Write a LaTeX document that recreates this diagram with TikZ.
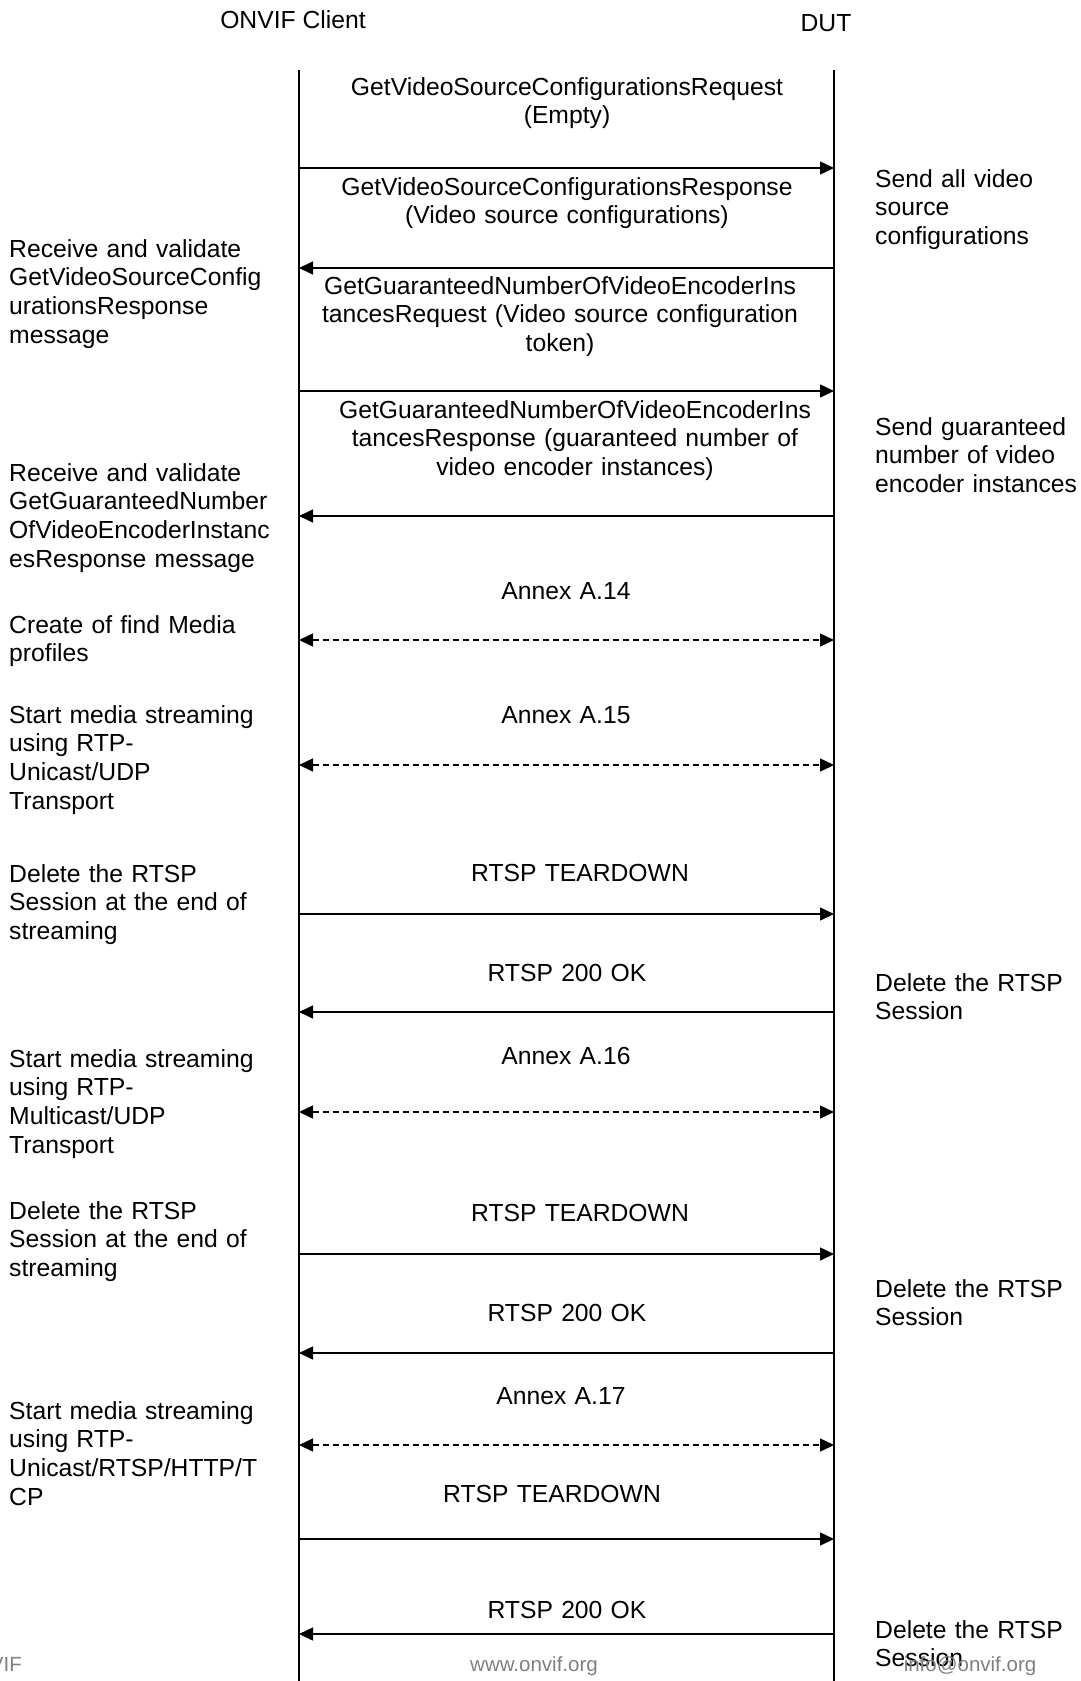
\documentclass[tikz,border=0pt]{standalone}
\usepackage{fontspec}
\setmainfont{Liberation Sans}
\usetikzlibrary{arrows.meta}
\begin{document}
\begin{tikzpicture}[x=1pt,y=-1pt,
  every node/.style={inner sep=0pt, font=\fontsize{24.7}{28.7}\selectfont},
  lifeline/.style={line width=1.8pt},
  msg/.style={line width=1.5pt, -{Triangle[length=14pt,width=13pt]}},
  dmsg/.style={line width=1.5pt, dash pattern=on 6pt off 4pt, {Triangle[length=14pt,width=13pt]}-{Triangle[length=14pt,width=13pt]}},
  lbl/.style={anchor=base, text width=560pt, align=center},
  lnote/.style={anchor=base west, text width=270pt, align=left},
  rnote/.style={anchor=base west, text width=205pt, align=left},
  foot/.style={anchor=base, text=black!50, font=\fontsize{20.5}{24}\selectfont}]
\useasboundingbox (0,0) rectangle (1081,1681);
\fill[white] (0,0) rectangle (1081,1681);

% headers
\node (hc) [anchor=base] at (293,28) {ONVIF Client};
\node (hd) [anchor=base] at (826,31) {DUT};

% lifelines
\coordinate (ct) at (299,70);
\coordinate (cb) at (299,1681);
\coordinate (dt) at (834,70);
\coordinate (db) at (834,1681);
\draw[lifeline] (ct) -- (cb);
\draw[lifeline] (dt) -- (db);

% arrow end points
\foreach \i/\y in {1/168,2/268,3/391,4/516,5/640,6/765,7/914,8/1012,9/1112,10/1254,11/1353,12/1445,13/1539,14/1634}{
  \coordinate (c\i) at (299,\y);
  \coordinate (d\i) at (834,\y);
}

% messages
\draw[msg] (c1) -- (d1);
\draw[msg] (d2) -- (c2);
\draw[msg] (c3) -- (d3);
\draw[msg] (d4) -- (c4);
\draw[dmsg] (c5) -- (d5);
\draw[dmsg] (c6) -- (d6);
\draw[msg] (c7) -- (d7);
\draw[msg] (d8) -- (c8);
\draw[dmsg] (c9) -- (d9);
\draw[msg] (c10) -- (d10);
\draw[msg] (d11) -- (c11);
\draw[dmsg] (c12) -- (d12);
\draw[msg] (c13) -- (d13);
\draw[msg] (d14) -- (c14);

% message labels
\node (m1) [lbl] at (567,95) {GetVideoSourceConfigurationsRequest\\(Empty)};
\node (m2) [lbl] at (567,195) {GetVideoSourceConfigurationsResponse\\(Video source configurations)};
\node (m3) [lbl] at (560,294) {GetGuaranteedNumberOfVideoEncoderIns\\tancesRequest (Video source configuration\\token)};
\node (m4) [lbl] at (575,418) {GetGuaranteedNumberOfVideoEncoderIns\\tancesResponse (guaranteed number of\\video encoder instances)};
\node (m5) [lbl] at (566,599) {Annex A.14};
\node (m6) [lbl] at (566,723) {Annex A.15};
\node (m7) [lbl] at (580,881) {RTSP TEARDOWN};
\node (m8) [lbl] at (567,981) {RTSP 200 OK};
\node (m9) [lbl] at (566,1064) {Annex A.16};
\node (m10) [lbl] at (580,1221) {RTSP TEARDOWN};
\node (m11) [lbl] at (567,1321) {RTSP 200 OK};
\node (m12) [lbl] at (561,1404) {Annex A.17};
\node (m13) [lbl] at (552,1502) {RTSP TEARDOWN};
\node (m14) [lbl] at (567,1618) {RTSP 200 OK};

% left notes
\node (l1) [lnote] at (9,257) {Receive and validate\\GetVideoSourceConfig\\urationsResponse\\message};
\node (l2) [lnote] at (9,481) {Receive and validate\\GetGuaranteedNumber\\OfVideoEncoderInstanc\\esResponse message};
\node (l3) [lnote] at (9,633) {Create of find Media\\profiles};
\node (l4) [lnote] at (9,723) {Start media streaming\\using RTP-\\Unicast/UDP\\Transport};
\node (l5) [lnote] at (9,882) {Delete the RTSP\\Session at the end of\\streaming};
\node (l6) [lnote] at (9,1067) {Start media streaming\\using RTP-\\Multicast/UDP\\Transport};
\node (l7) [lnote] at (9,1219) {Delete the RTSP\\Session at the end of\\streaming};
\node (l8) [lnote] at (9,1419) {Start media streaming\\using RTP-\\Unicast/RTSP/HTTP/T\\CP};

% right notes
\node (r1) [rnote] at (875,187) {Send all video\\source\\configurations};
\node (r2) [rnote] at (875,435) {Send guaranteed\\number of video\\encoder instances};
\node (r3) [rnote] at (875,991) {Delete the RTSP\\Session};
\node (r4) [rnote] at (875,1297) {Delete the RTSP\\Session};
\node (r5) [rnote] at (875,1638) {Delete the RTSP\\Session};

% footer
\node (f1) [foot, anchor=base east] at (22,1671) {ONVIF};
\node (f2) [foot] at (534,1671) {www.onvif.org};
\node (f3) [foot] at (970,1671) {info@onvif.org};
\end{tikzpicture}
\end{document}
